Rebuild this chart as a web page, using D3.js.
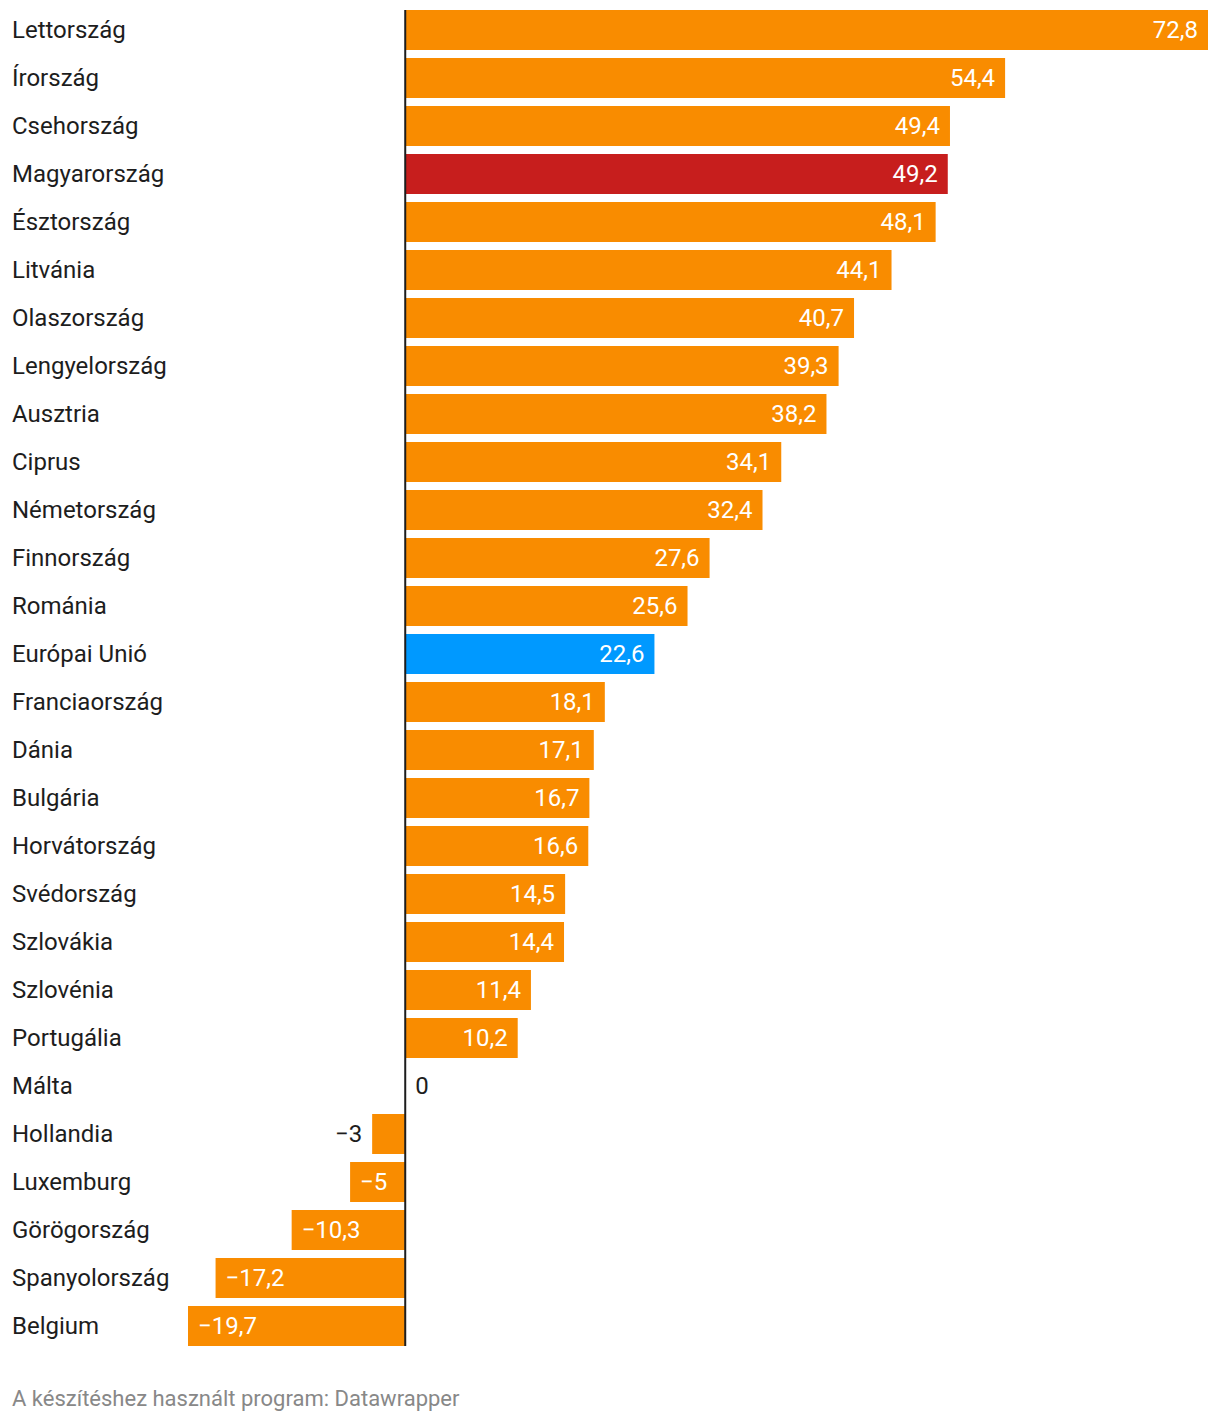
<!DOCTYPE html>
<html><head><meta charset="utf-8">
<script src="https://cdn.jsdelivr.net/npm/d3@7"></script>
<style>body{margin:0;background:#fff;font-family:Roboto,sans-serif}</style>
</head><body><svg id="c" width="1220" height="1422"></svg>
<script>
const countries = ["Lettország","Írország","Csehország","Magyarország","Észtország","Litvánia","Olaszország","Lengyelország","Ausztria","Ciprus","Németország","Finnország","Románia","Európai Unió","Franciaország","Dánia","Bulgária","Horvátország","Svédország","Szlovákia","Szlovénia","Portugália","Málta","Hollandia","Luxemburg","Görögország","Spanyolország","Belgium"];
const values = [72.8,54.4,49.4,49.2,48.1,44.1,40.7,39.3,38.2,34.1,32.4,27.6,25.6,22.6,18.1,17.1,16.7,16.6,14.5,14.4,11.4,10.2,0,-3,-5,-10.3,-17.2,-19.7];
const highlight = {"Magyarország":"#c71e1d","Európai Unió":"#0099ff"};
const baseColor = "#f98c00";
const footer = "A készítéshez használt program: Datawrapper";

const svg = d3.select("#c");
const x = d3.scaleLinear().domain([-19.7,72.8]).range([188,1208]);
const y = d3.scaleBand().domain(countries).range([10,1346]).paddingInner(8/48).paddingOuter(0);
const bh = y.bandwidth();
const data = countries.map((c,i)=>({c,v:values[i]}));
const fmt = v => (v<0?"\u2212":"") + d3.format(",")(Math.abs(v)).replace(".",",");

svg.selectAll("text.lab").data(data).join("text")
  .attr("x",12).attr("y",d=>y(d.c)+bh/2).attr("dy","0.35em")
  .attr("font-size",24).attr("fill","#1d1d1d").text(d=>d.c);

svg.selectAll("rect.bar").data(data).join("rect")
  .attr("x",d=>Math.min(x(0),x(d.v))).attr("y",d=>y(d.c))
  .attr("width",d=>Math.abs(x(d.v)-x(0))).attr("height",bh)
  .attr("fill",d=>highlight[d.c]||baseColor);

svg.selectAll("text.val").data(data).join("text")
  .attr("y",d=>y(d.c)+bh/2).attr("dy","0.35em").attr("font-size",24)
  .each(function(d){
    const t=d3.select(this); const w=Math.abs(x(d.v)-x(0));
    if(d.v>0){ t.attr("x",x(d.v)-10).attr("text-anchor","end").attr("fill","#fff"); }
    else if(d.v===0){ t.attr("x",x(0)+10).attr("text-anchor","start").attr("fill","#1d1d1d"); }
    else if(w>50){ t.attr("x",x(d.v)+10).attr("text-anchor","start").attr("fill","#fff"); }
    else { t.attr("x",x(d.v)-10).attr("text-anchor","end").attr("fill","#1d1d1d"); }
  }).text(d=>fmt(d.v));

svg.append("line").attr("x1",x(0)).attr("x2",x(0)).attr("y1",10).attr("y2",1346)
  .attr("stroke","#1d1d1d").attr("stroke-width",2);

svg.append("text").attr("x",12).attr("y",1398).attr("dy","0.35em").attr("font-size",22)
  .attr("fill","#888").text(footer);
</script></body></html>
